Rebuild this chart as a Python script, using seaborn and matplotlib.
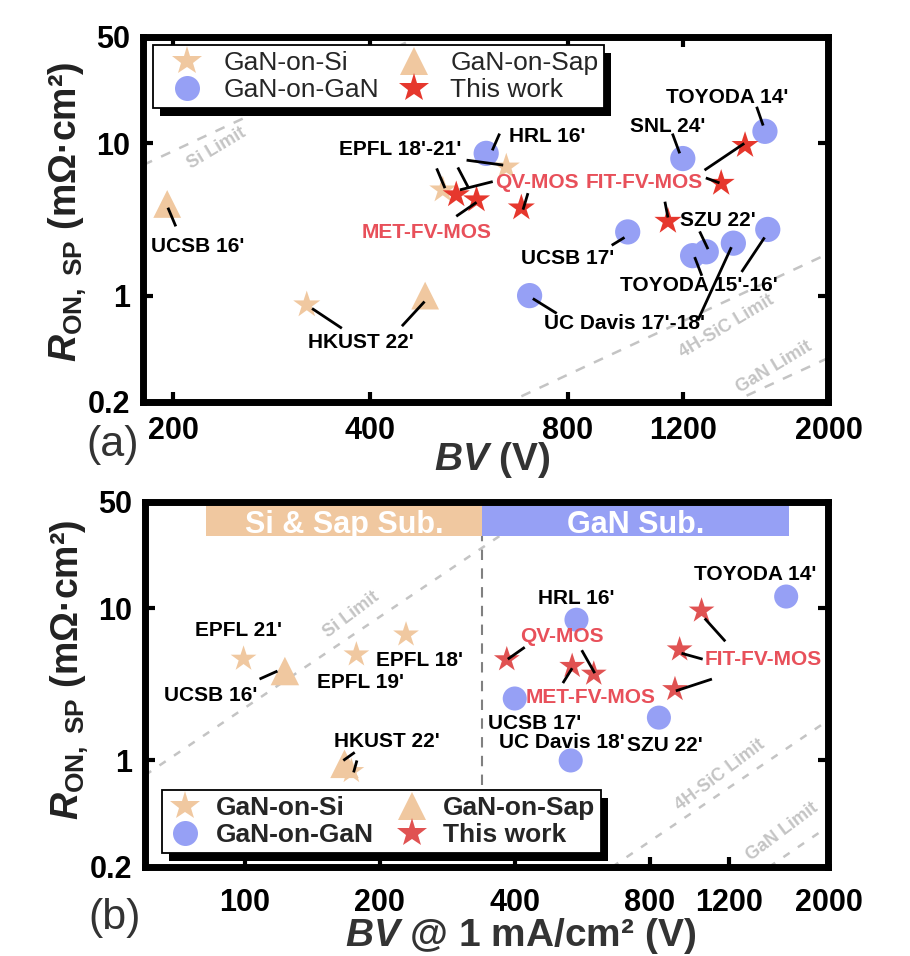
import pandas as pd
import seaborn as sns
import matplotlib.pyplot as plt
from matplotlib.lines import Line2D
from matplotlib.patches import Rectangle
from matplotlib.transforms import IdentityTransform
from matplotlib.ticker import FixedLocator, FixedFormatter, NullLocator

sns.set_style("ticks")
plt.rcParams['font.family'] = ['Liberation Sans', 'DejaVu Sans']
plt.rcParams['mathtext.fontset'] = 'custom'
plt.rcParams['mathtext.rm'] = 'Liberation Sans:bold'
plt.rcParams['mathtext.it'] = 'Liberation Sans:bold:italic'
plt.rcParams['mathtext.bf'] = 'Liberation Sans:bold'

TAN = '#F0C8A0'
BLUE = '#96A0F5'
RED_A = '#E6372D'
RED_B = '#E05252'
LBL_RED = '#E8505A'
LIM_GRAY = '#C4C4C4'
KINDS = ['GaN-on-Si', 'GaN-on-Sap', 'GaN-on-GaN', 'This work']

# ---------------- panel (a): R_on,sp vs BV ----------------
a_si_bv = [320, 516, 645]
a_si_r = [0.87, 4.95, 7.0]
a_sap_bv = [196, 485]
a_sap_r = [4.0, 1.0]
a_gan_bv = [601, 1199, 1600, 988, 700, 1241, 1302, 1432, 1616]
a_gan_r = [8.6, 7.95, 12.0, 2.62, 1.0, 1.83, 1.94, 2.21, 2.72]
a_this_bv = [541, 581, 680, 1138, 1372, 1492]
a_this_r = [4.6, 4.26, 3.77, 3.08, 5.47, 9.7]

a_labels = ["UCSB 16'", "HKUST 22'", "EPFL 18'-21'", "HRL 16'", "SNL 24'",
            "TOYODA 14'", "SZU 22'", "UCSB 17'", "TOYODA 15'-16'", "UC Davis 17'-18'"]
a_label_x = [218, 387, 445, 746, 1138, 1400, 1358, 800, 1268, 977]
a_label_y = [2.1, 0.49, 9.1, 11.1, 12.9, 19.9, 3.1, 1.76, 1.16, 0.66]

a_work_labels = ["QV-MOS", "FIT-FV-MOS", "MET-FV-MOS"]
a_work_x = [718, 1046, 488]
a_work_y = [5.5, 5.5, 2.6]

# leader lines (x0, y0, x1, y1)
a_lead_x0 = [196.5, 326, 484, 561, 505, 544, 615, 541, 696, 630, 1156, 1554,
             1294, 1300, 1126, 1272, 934, 1250, 1598, 708, 1422]
a_lead_y0 = [3.78, 0.823, 0.914, 7.76, 6.85, 6.95, 5.61, 3.32, 4.71, 11.6, 11.6, 17.4,
             6.67, 5.93, 4.14, 2.64, 2.14, 1.79, 2.41, 0.956, 2.08]
a_lead_x1 = [202, 362, 447, 638, 520, 564, 548, 581, 684, 614, 1186, 1590,
             1488, 1364, 1138, 1310, 977, 1282, 1474, 770, 1264]
a_lead_y1 = [2.85, 0.61, 0.63, 7.2, 5.08, 5.16, 4.95, 4.1, 3.67, 9.0, 8.6, 13.1,
             10.0, 5.5, 3.26, 2.02, 2.41, 1.35, 1.43, 0.764, 0.688]

a_limit_names = ['Si Limit', '4H-SiC Limit', 'GaN Limit']
a_limit_bv = [[180, 473], [680, 2000], [1500, 2000]]
a_limit_r = [[7.2, 50], [0.218, 1.89], [0.22, 0.39]]
a_limit_tx = [233, 1400, 1650]
a_limit_ty = [9.3, 0.63, 0.34]

# ---------------- panel (b): R_on,sp vs BV @ 1 mA/cm2 ----------------
b_si_bv = [99.5, 177.5, 229, 173]
b_si_r = [4.64, 4.95, 6.69, 0.85]
b_sap_bv = [123, 167]
b_sap_r = [3.86, 0.95]
b_gan_bv = [549, 1610, 400, 838, 533]
b_gan_r = [8.38, 11.9, 2.55, 1.91, 1.0]
b_this_bv = [384, 537, 600, 910, 932, 1043]
b_this_r = [4.6, 4.16, 3.7, 2.93, 5.34, 9.6]

b_labels = ["EPFL 21'", "UCSB 16'", "EPFL 18'", "EPFL 19'", "HKUST 22'", "TOYODA 14'",
            "HRL 16'", "UCSB 17'", "UC Davis 18'", "SZU 22'"]
b_label_x = [97, 84, 245, 181, 208, 1372, 547, 443, 509, 866]
b_label_y = [7.1, 2.65, 4.55, 3.27, 1.33, 16.5, 11.5, 1.74, 1.31, 1.25]

b_work_labels = ["QV-MOS", "MET-FV-MOS", "FIT-FV-MOS"]
b_work_x = [509, 591, 1433]
b_work_y = [6.5, 2.57, 4.6]

b_lead_x0 = [108, 166, 175, 421, 564, 512, 1178, 1049, 1100]
b_lead_y0 = [3.42, 1.0, 0.835, 5.53, 5.29, 3.22, 6.05, 4.62, 3.42]
b_lead_x1 = [118.4, 176, 178, 386, 603, 537, 1060, 941, 914]
b_lead_y1 = [3.86, 1.13, 1.0, 4.62, 3.74, 4.03, 8.55, 5.05, 2.86]

b_limit_names = ['Si Limit', '4H-SiC Limit', 'GaN Limit']
b_limit_bv = [[60, 481], [659, 2000], [1474, 2000]]
b_limit_r = [[0.80, 50], [0.2, 1.84], [0.2, 0.37]]
b_limit_tx = [173, 1150, 1580]
b_limit_ty = [9.1, 0.8, 0.34]

sub_names = ['Si & Sap Sub.', 'GaN Sub.']
sub_bv = [[82, 338], [338, 1632]]
sub_colors = [TAN, BLUE]
sub_divider_bv = 338

y_ticks = [0.2, 1, 10, 50]
y_ticklabels = ['0.2', '1', '10', '50']
a_x_ticks = [200, 400, 800, 1200, 2000]
b_x_ticks = [100, 200, 400, 800, 1200, 2000]


def points_frame(si_bv, si_r, sap_bv, sap_r, gan_bv, gan_r, this_bv, this_r):
    return pd.DataFrame({
        'bv': si_bv + sap_bv + gan_bv + this_bv,
        'r': si_r + sap_r + gan_r + this_r,
        'kind': ([KINDS[0]] * len(si_bv) + [KINDS[1]] * len(sap_bv)
                 + [KINDS[2]] * len(gan_bv) + [KINDS[3]] * len(this_bv)),
    })


def style_axes(ax, xticks, xlim, xpad):
    ax.set_xscale('log')
    ax.set_yscale('log')
    ax.set_xlim(xlim)
    ax.set_ylim(0.2, 50)
    ax.xaxis.set_major_locator(FixedLocator(xticks))
    ax.xaxis.set_major_formatter(FixedFormatter([str(t) for t in xticks]))
    ax.xaxis.set_minor_locator(NullLocator())
    ax.yaxis.set_major_locator(FixedLocator(y_ticks))
    ax.yaxis.set_major_formatter(FixedFormatter(y_ticklabels))
    ax.yaxis.set_minor_locator(NullLocator())
    for sp in ax.spines.values():
        sp.set_visible(True)
        sp.set_linewidth(5)
        sp.set_color('k')
        sp.set_zorder(6)
    ax.tick_params(which='major', direction='in', length=7, width=3,
                   top=True, right=True, labelsize=22, colors='k')
    ax.tick_params(axis='x', pad=xpad)
    ax.tick_params(axis='y', pad=9)
    for lab in ax.get_xticklabels() + ax.get_yticklabels():
        lab.set_fontweight('bold')
    ax.set_facecolor('white')


def draw_points(ax, df, red, sizes):
    sns.scatterplot(data=df, x='bv', y='r', hue='kind', style='kind', size='kind',
                    palette={KINDS[0]: TAN, KINDS[1]: TAN, KINDS[2]: BLUE, KINDS[3]: red},
                    markers={KINDS[0]: '*', KINDS[1]: '^', KINDS[2]: 'o', KINDS[3]: '*'},
                    sizes=sizes, linewidth=0, legend=False, ax=ax, zorder=3)


def add_legend(ax, red, anchor, loc, weight, hl, htp, cs):
    handles = [
        Line2D([0], [0], marker='*', ls='none', color=TAN, markersize=22, markeredgewidth=0),
        Line2D([0], [0], marker='o', ls='none', color=BLUE, markersize=18, markeredgewidth=0),
        Line2D([0], [0], marker='^', ls='none', color=TAN, markersize=20, markeredgewidth=0),
        Line2D([0], [0], marker='*', ls='none', color=red, markersize=22, markeredgewidth=0),
    ]
    names = [KINDS[0], KINDS[2], KINDS[1], KINDS[3]]
    leg = ax.legend(handles, names, ncol=2, loc=loc, bbox_to_anchor=anchor,
                    borderaxespad=0, frameon=True, fancybox=False, framealpha=1,
                    edgecolor='k', prop={'size': 19, 'weight': weight},
                    handlelength=hl, handletextpad=htp, columnspacing=cs,
                    borderpad=0.22, labelspacing=0.12)
    leg.get_frame().set_linewidth(1.3)
    leg.set_zorder(8)
    return leg


fig = plt.figure(figsize=(9.1, 9.56), dpi=100)
ax_a = fig.add_axes([0.1571, 0.5795, 0.7533, 0.3818])
ax_b = fig.add_axes([0.1593, 0.0931, 0.7511, 0.3823])

# ---- panel (a)
df_a = points_frame(a_si_bv, a_si_r, a_sap_bv, a_sap_r, a_gan_bv, a_gan_r, a_this_bv, a_this_r)
for bv, r in zip(a_limit_bv, a_limit_r):
    ax_a.plot(bv, r, color=LIM_GRAY, lw=1.8, ls=(0, (4, 4)), zorder=1)
for name, x, y in zip(a_limit_names, a_limit_tx, a_limit_ty):
    ax_a.text(x, y, name, color=LIM_GRAY, fontsize=13, fontweight='bold',
              rotation=31, ha='center', va='center', zorder=1)
draw_points(ax_a, df_a, RED_A, {KINDS[0]: 420, KINDS[1]: 400, KINDS[2]: 330, KINDS[3]: 420})
for x0, y0, x1, y1 in zip(a_lead_x0, a_lead_y0, a_lead_x1, a_lead_y1):
    ax_a.plot([x0, x1], [y0, y1], color='k', lw=2, zorder=4, solid_capstyle='butt')
for t, x, y in zip(a_labels, a_label_x, a_label_y):
    ax_a.text(x, y, t, fontsize=15, fontweight='bold', color='k', ha='center', va='center', zorder=5)
for t, x, y in zip(a_work_labels, a_work_x, a_work_y):
    ax_a.text(x, y, t, fontsize=15, fontweight='bold', color=LBL_RED, ha='center', va='center', zorder=5)
style_axes(ax_a, a_x_ticks, (180, 2000), 10)
leg_a = add_legend(ax_a, RED_A, ((153 - 143) / 685.5, (402 - 45) / 365), 'upper left',
                   'normal', 2.15, 0.3, 0.25)

# ---- panel (b)
df_b = points_frame(b_si_bv, b_si_r, b_sap_bv, b_sap_r, b_gan_bv, b_gan_r, b_this_bv, b_this_r)
for bv, r in zip(b_limit_bv, b_limit_r):
    ax_b.plot(bv, r, color=LIM_GRAY, lw=1.8, ls=(0, (3, 4)), zorder=1)
for name, x, y in zip(b_limit_names, b_limit_tx, b_limit_ty):
    ax_b.text(x, y, name, color=LIM_GRAY, fontsize=13, fontweight='bold',
              rotation=37, ha='center', va='center', zorder=1)
for name, (x0, x1), c in zip(sub_names, sub_bv, sub_colors):
    ax_b.axvspan(x0, x1, ymin=0.905, ymax=0.996, color=c, lw=0, zorder=2)
    ax_b.text((x0 * x1) ** 0.5, 31, name, color='white', fontsize=22, fontweight='bold',
              ha='center', va='baseline', zorder=2.5)
ax_b.axvline(sub_divider_bv, ymin=0.225, ymax=0.905, color='#808080', lw=1.5,
             ls=(0, (5, 4)), zorder=1.5)
draw_points(ax_b, df_b, RED_B, {KINDS[0]: 380, KINDS[1]: 420, KINDS[2]: 300, KINDS[3]: 380})
for x0, y0, x1, y1 in zip(b_lead_x0, b_lead_y0, b_lead_x1, b_lead_y1):
    ax_b.plot([x0, x1], [y0, y1], color='k', lw=2, zorder=4, solid_capstyle='butt')
for t, x, y in zip(b_labels, b_label_x, b_label_y):
    ax_b.text(x, y, t, fontsize=15, fontweight='bold', color='k', ha='center', va='center', zorder=5)
for t, x, y in zip(b_work_labels, b_work_x, b_work_y):
    ax_b.text(x, y, t, fontsize=15, fontweight='bold', color=LBL_RED, ha='center', va='center', zorder=5)
style_axes(ax_b, b_x_ticks, (60, 2000), 15)
leg_b = add_legend(ax_b, RED_B, ((162 - 145) / 683.5, (867 - 853) / 365.5), 'lower left',
                   'bold', 1.34, 0.5, 0.75)

# ---- axis labels
ylab = r'$\mathit{R}_{\mathrm{ON,\ SP}}$ (mΩ·cm²)'
for ax, yc in ((ax_a, 0.52), (ax_b, 0.54)):
    ax.set_ylabel(ylab, fontsize=27, fontweight='bold', color='#222222')
    ax.yaxis.label.set_va('center')
    ax.yaxis.set_label_coords(-0.11, yc)
ax_a.set_xlabel(r'$\mathit{BV}$ (V)', fontsize=28, fontweight='bold', color='#333333')
ax_a.xaxis.label.set_va('center')
ax_a.xaxis.set_label_coords(0.509, -0.159)
ax_b.set_xlabel(r'$\mathit{BV}$ @ 1 mA/cm² (V)', fontsize=28, fontweight='bold', color='#333333')
ax_b.xaxis.label.set_va('center')
ax_b.xaxis.set_label_coords(0.549, -0.19)

fig.text(113 / 910, 1 - 445 / 956, '(a)', fontsize=31, color='#333333', ha='center', va='center')
fig.text(115 / 910, 1 - 918 / 956, '(b)', fontsize=31, color='#333333', ha='center', va='center')

# legend drop shadows (solid black, offset down-right)
fig.canvas.draw()
for ax, leg in ((ax_a, leg_a), (ax_b, leg_b)):
    bb = leg.get_window_extent()
    ax.add_patch(Rectangle((bb.x0 + 7, bb.y0 - 8), bb.width, bb.height, facecolor='k',
                           edgecolor='none', transform=IdentityTransform(),
                           clip_on=False, zorder=7))

fig.savefig('out.png', dpi=100)
